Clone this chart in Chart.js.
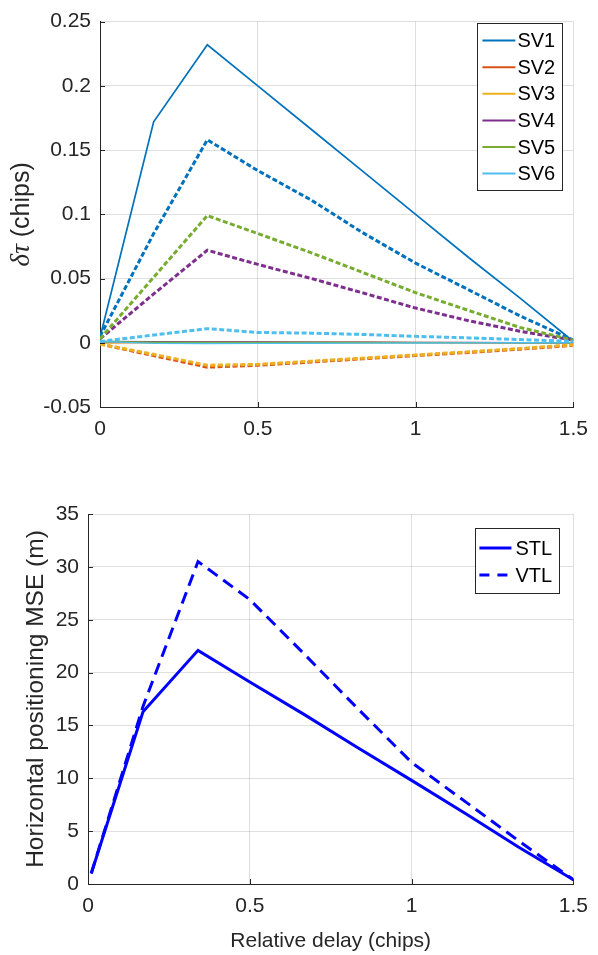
<!DOCTYPE html>
<html>
<head>
<meta charset="utf-8">
<script src="https://cdn.jsdelivr.net/npm/chart.js@4.4.1/dist/chart.umd.min.js"></script>
<style>
  body { margin: 0; background: #fff; }
  #wrap { position: relative; width: 598px; height: 955px; }
  canvas { position: absolute; left: 0; }
  #topChart { top: 0; }
  #bottomChart { top: 455px; }
</style>
</head>
<body>
<div id="wrap">
  <canvas id="topChart" width="598" height="455"></canvas>
  <canvas id="bottomChart" width="598" height="500"></canvas>
</div>
<script>
// ---- top plot: code delay error per satellite ----
const delayX = [0, 0.17, 0.34, 0.5, 0.67, 0.83, 1, 1.17, 1.33, 1.5];
const svNames = ['SV1', 'SV2', 'SV3', 'SV4', 'SV5', 'SV6'];
const svColors = ['#0072BD', '#D95319', '#EDB120', '#7E2F8E', '#77AC30', '#4DBEEE'];

// solid curves (shown in legend)
const sv1Solid = [0.004, 0.172, 0.232, 0.200, 0.166, 0.134, 0.100, 0.066, 0.035, 0.001];
const sv2Solid = [0.000, 0.0002, 0.0003, 0.0003, 0.0002, 0.0002, 0.0001, 0.0001, 0.000, 0.000];
const sv3Solid = [0.000, 0.0004, 0.0006, 0.0005, 0.0004, 0.0003, 0.0002, 0.0001, 0.0001, 0.000];
const sv4Solid = [0.001, 0.0008, 0.0007, 0.0006, 0.0005, 0.0004, 0.0003, 0.0002, 0.0001, 0.000];
const sv5Solid = [0.001, 0.0004, 0.0003, 0.0003, 0.0002, 0.0002, 0.0001, 0.0001, 0.000, 0.000];
const sv6Solid = [0.001, -0.0005, -0.0006, -0.0005, -0.0004, -0.0003, -0.0002, -0.0001, 0.000, 0.000];

// dotted curves
const sv1Dash = [0.005, 0.085, 0.158, 0.134, 0.111, 0.086, 0.062, 0.041, 0.021, 0.002];
const sv2Dash = [-0.001, -0.010, -0.019, -0.0175, -0.015, -0.0125, -0.010, -0.0075, -0.005, -0.002];
const sv3Dash = [-0.001, -0.009, -0.0175, -0.0168, -0.0143, -0.012, -0.0095, -0.007, -0.0045, -0.0015];
const sv4Dash = [0.003, 0.038, 0.072, 0.061, 0.050, 0.039, 0.027, 0.017, 0.009, 0.002];
const sv5Dash = [0.003, 0.051, 0.099, 0.085, 0.070, 0.055, 0.039, 0.025, 0.012, 0.002];
const sv6Dash = [0.001, 0.006, 0.011, 0.008, 0.0075, 0.0065, 0.005, 0.0038, 0.0025, 0.001];

const topXTicks = [0, 0.5, 1, 1.5];
const topXLabels = ['0', '0.5', '1', '1.5'];
const topYTicks = [-0.05, 0, 0.05, 0.1, 0.15, 0.2, 0.25];
const topYLabels = ['-0.05', '0', '0.05', '0.1', '0.15', '0.2', '0.25'];

// ---- bottom plot: horizontal positioning MSE ----
const mseX = [0.01, 0.17, 0.34, 0.5, 0.67, 0.83, 1, 1.17, 1.33, 1.5];
const stlMse = [1.0, 16.3, 22.1, 19.1, 16.0, 12.95, 9.8, 6.6, 3.5, 0.4];
const vtlMse = [1.0, 16.8, 30.5, 26.9, 21.7, 16.7, 11.5, 7.7, 4.1, 0.4];

const bottomXTicks = [0, 0.5, 1, 1.5];
const bottomXLabels = ['0', '0.5', '1', '1.5'];
const bottomYTicks = [0, 5, 10, 15, 20, 25, 30, 35];
const bottomYLabels = ['0', '5', '10', '15', '20', '25', '30', '35'];

const AXIS_COLOR = '#262626';
const GRID_COLOR = 'rgba(38,38,38,0.15)';
const FONT = '"Liberation Sans", Arial, Helvetica, sans-serif';

function pts(xs, ys) {
  return xs.map((x, i) => ({ x: x, y: ys[i] }));
}

// matlab-ish decorations: inward ticks, boxed legend, axis titles
const matlabDecor = {
  id: 'matlabDecor',
  afterDraw(chart, args, opts) {
    const ctx = chart.ctx;
    const area = chart.chartArea;
    const xs = chart.scales.x, ys = chart.scales.y;

    ctx.save();
    ctx.strokeStyle = AXIS_COLOR;
    ctx.lineWidth = 1;
    ctx.setLineDash([]);
    xs.ticks.forEach(t => {
      const px = Math.round(xs.getPixelForValue(t.value)) + 0.5;
      ctx.beginPath();
      ctx.moveTo(px, area.bottom);
      ctx.lineTo(px, area.bottom - 5);
      ctx.stroke();
    });
    ys.ticks.forEach(t => {
      const py = Math.round(ys.getPixelForValue(t.value)) + 0.5;
      ctx.beginPath();
      ctx.moveTo(area.left, py);
      ctx.lineTo(area.left + 5, py);
      ctx.stroke();
    });

    // legend box
    const lg = opts.legend;
    if (lg) {
      const entries = chart.data.datasets.filter(d => d.inLegend);
      const bx = area.right - lg.right - lg.width;
      const by = area.top + lg.top;
      const bh = lg.first * 2 + lg.step * (entries.length - 1) - 2;
      ctx.fillStyle = '#fff';
      ctx.fillRect(bx, by, lg.width, bh);
      ctx.strokeStyle = AXIS_COLOR;
      ctx.lineWidth = 1;
      ctx.strokeRect(Math.round(bx) + 0.5, Math.round(by) + 0.5, lg.width, bh);
      entries.forEach((d, i) => {
        const cy = by + lg.first + i * lg.step;
        ctx.strokeStyle = d.borderColor;
        ctx.lineWidth = lg.lineWidth;
        ctx.setLineDash(d.legendDash || []);
        ctx.beginPath();
        ctx.moveTo(bx + lg.lineStart, cy);
        ctx.lineTo(bx + lg.lineEnd, cy);
        ctx.stroke();
        ctx.setLineDash([]);
        ctx.fillStyle = '#000';
        ctx.font = '20px ' + FONT;
        ctx.textBaseline = 'middle';
        ctx.textAlign = 'left';
        ctx.fillText(d.label, bx + lg.textStart, cy + 1);
      });
    }

    // axis titles
    function drawParts(parts, cx, cy, rotate) {
      ctx.save();
      ctx.translate(cx, cy);
      if (rotate) ctx.rotate(-Math.PI / 2);
      ctx.fillStyle = AXIS_COLOR;
      ctx.textBaseline = 'middle';
      ctx.textAlign = 'left';
      let total = 0;
      parts.forEach(p => { ctx.font = p.font; total += ctx.measureText(p.text).width; });
      let x = -total / 2;
      parts.forEach(p => {
        ctx.font = p.font;
        ctx.fillText(p.text, x, 0);
        x += ctx.measureText(p.text).width;
      });
      ctx.restore();
    }
    if (opts.yTitle) drawParts(opts.yTitle, opts.yTitleX, (area.top + area.bottom) / 2, true);
    if (opts.xTitle) drawParts(opts.xTitle, (area.left + area.right) / 2, opts.xTitleY, false);
    ctx.restore();
  }
};

function axisOptions(min, max, tickVals, tickLabels, fitSize, isX) {
  return {
    type: 'linear',
    min: min,
    max: max,
    afterBuildTicks: s => { s.ticks = tickVals.map(v => ({ value: v })); },
    afterFit: s => { if (isX) s.height = fitSize; else s.width = fitSize; },
    grid: { color: GRID_COLOR, lineWidth: 1, drawTicks: false },
    border: { display: true, color: AXIS_COLOR, width: 1 },
    ticks: {
      color: AXIS_COLOR,
      font: { family: FONT, size: 21 },
      padding: isX ? 10 : 9,
      maxRotation: 0,
      autoSkip: false,
      callback: (v, i) => tickLabels[i]
    }
  };
}

// ---- top chart ----
const solidSets = [sv1Solid, sv2Solid, sv3Solid, sv4Solid, sv5Solid, sv6Solid];
const dashSets = [sv1Dash, sv2Dash, sv3Dash, sv4Dash, sv5Dash, sv6Dash];
const topDatasets = [];
solidSets.forEach((ys, i) => {
  topDatasets.push({
    label: svNames[i],
    inLegend: true,
    data: pts(delayX, ys),
    borderColor: svColors[i],
    borderWidth: i === 0 ? 1.7 : 1.4,
    pointRadius: 0,
    tension: 0,
    order: 20 - i
  });
});
dashSets.forEach((ys, i) => {
  topDatasets.push({
    label: svNames[i] + ' dotted',
    inLegend: false,
    data: pts(delayX, ys),
    borderColor: svColors[i],
    borderWidth: 3,
    borderDash: [5, 2.5],
    pointRadius: 0,
    tension: 0,
    order: 10 - i
  });
});

new Chart(document.getElementById('topChart'), {
  type: 'line',
  data: { datasets: topDatasets },
  options: {
    responsive: false,
    animation: false,
    devicePixelRatio: 1,
    layout: { padding: { left: 0, top: 20, right: 18, bottom: 0 } },
    scales: {
      x: axisOptions(0, 1.5, topXTicks, topXLabels, 48, true),
      y: axisOptions(-0.05, 0.25, topYTicks, topYLabels, 100, false)
    },
    plugins: {
      legend: { display: false },
      tooltip: { enabled: false },
      matlabDecor: {
        legend: { right: 11, top: 1, width: 85, first: 18, step: 26.6, lineStart: 5, lineEnd: 38, textStart: 40, lineWidth: 2 },
        yTitle: [
          { text: 'δτ', font: 'italic 27px "Liberation Serif", "DejaVu Serif", serif' },
          { text: ' (chips)', font: '25px ' + FONT }
        ],
        yTitleX: 22
      }
    }
  },
  plugins: [matlabDecor]
});

// ---- bottom chart ----
new Chart(document.getElementById('bottomChart'), {
  type: 'line',
  data: {
    datasets: [
      {
        label: 'STL',
        inLegend: true,
        data: pts(mseX, stlMse),
        borderColor: '#0000FF',
        borderWidth: 3,
        pointRadius: 0,
        tension: 0
      },
      {
        label: 'VTL',
        inLegend: true,
        legendDash: [10, 8],
        data: pts(mseX, vtlMse),
        borderColor: '#0000FF',
        borderWidth: 3,
        borderDash: [12, 7],
        pointRadius: 0,
        tension: 0
      }
    ]
  },
  options: {
    responsive: false,
    animation: false,
    devicePixelRatio: 1,
    layout: { padding: { left: 0, top: 59, right: 18, bottom: 0 } },
    scales: {
      x: axisOptions(0, 1.5, bottomXTicks, bottomXLabels, 71, true),
      y: axisOptions(0, 35, bottomYTicks, bottomYLabels, 88, false)
    },
    plugins: {
      legend: { display: false },
      tooltip: { enabled: false },
      matlabDecor: {
        legend: { right: 14, top: 14, width: 84, first: 20, step: 27, lineStart: 4, lineEnd: 36, textStart: 40, lineWidth: 3 },
        yTitle: [{ text: 'Horizontal positioning MSE (m)', font: '24.5px ' + FONT }],
        yTitleX: 36,
        xTitle: [{ text: 'Relative delay (chips)', font: '21px ' + FONT }],
        xTitleY: 486
      }
    }
  },
  plugins: [matlabDecor]
});
</script>
</body>
</html>
